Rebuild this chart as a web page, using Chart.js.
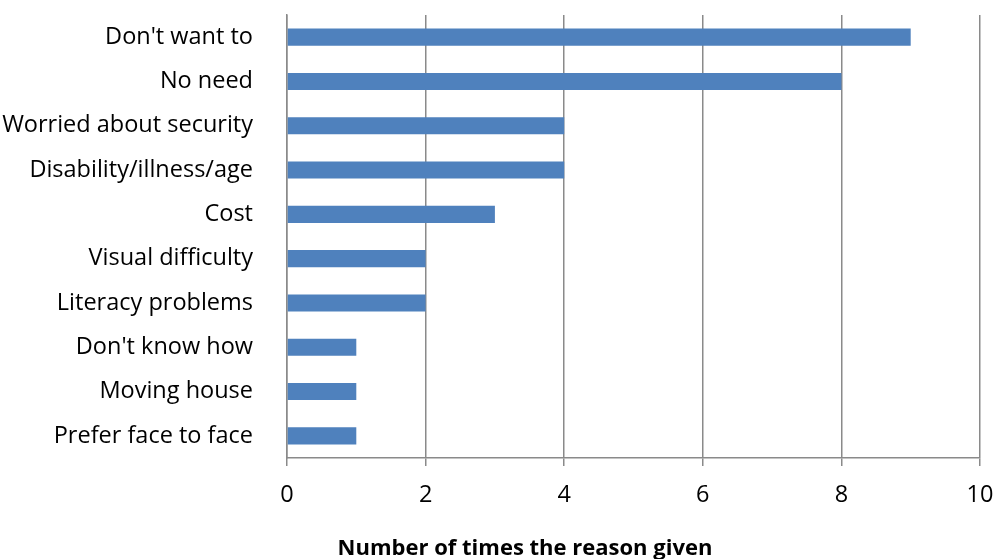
<!DOCTYPE html>
<html>
<head>
<meta charset="utf-8">
<script src="https://cdn.jsdelivr.net/npm/chart.js@4"></script>
<style>
  html, body { margin: 0; padding: 0; background: #fff; }
  #wrap { width: 994px; height: 559px; }
</style>
</head>
<body>
<div id="wrap"><canvas id="reasonChart" width="994" height="559"></canvas></div>
<script>
const reasons = [
    "Don't want to",
    "No need",
    "Worried about security",
    "Disability/illness/age",
    "Cost",
    "Visual difficulty",
    "Literacy problems",
    "Don't know how",
    "Moving house",
    "Prefer face to face",
];
const timesGiven = [9, 8, 4, 4, 3, 2, 2, 1, 1, 1];
const xTicks = [0, 2, 4, 6, 8, 10];
const axisTitle = "Number of times the reason given";

const fontFamily = "'Open Sans', 'Noto Sans', sans-serif";
const gridColor = "#8a8a8a";

// axis title sits off-centre in the original, so draw it by hand
const axisTitlePlugin = {
    id: "axisTitle",
    afterDraw(chart) {
        const c = chart.ctx;
        c.save();
        c.font = "bold 22px " + fontFamily;
        c.fillStyle = "#000";
        c.textAlign = "center";
        c.textBaseline = "alphabetic";
        c.fillText(axisTitle, 525, 555);
        c.restore();
    },
};

const ctx = document.getElementById("reasonChart").getContext("2d");

new Chart(ctx, {
    type: "bar",
    data: {
        labels: reasons,
        datasets: [
            {
                data: timesGiven,
                backgroundColor: "#4f81bd",
                borderWidth: 0,
                categoryPercentage: 1,
                barPercentage: 0.385,
            },
        ],
    },
    options: {
        indexAxis: "y",
        responsive: false,
        animation: false,
        layout: { padding: { top: 15, right: 14, left: 0, bottom: 0 } },
        plugins: {
            legend: { display: false },
            tooltip: { enabled: false },
        },
        scales: {
            x: {
                min: 0,
                max: 10,
                afterBuildTicks: (scale) => {
                    scale.ticks = xTicks.map((v) => ({ value: v }));
                },
                afterFit: (scale) => {
                    scale.height = 101;
                    scale.paddingLeft = 0;
                    scale.paddingRight = 0;
                },
                grid: {
                    color: gridColor,
                    lineWidth: 1.5,
                    drawTicks: true,
                    tickLength: 8,
                },
                border: { display: true, color: gridColor, width: 1.5 },
                ticks: {
                    color: "#000",
                    padding: 15,
                    font: { family: fontFamily, size: 23.5 },
                },
            },
            y: {
                afterFit: (scale) => {
                    scale.width = 287;
                    scale.paddingTop = 0;
                    scale.paddingBottom = 0;
                },
                grid: { display: false },
                border: { display: true, color: gridColor, width: 1.5 },
                ticks: {
                    color: "#000",
                    padding: 26,
                    font: { family: fontFamily, size: 23.5 },
                },
            },
        },
    },
    plugins: [axisTitlePlugin],
});
</script>
</body>
</html>
